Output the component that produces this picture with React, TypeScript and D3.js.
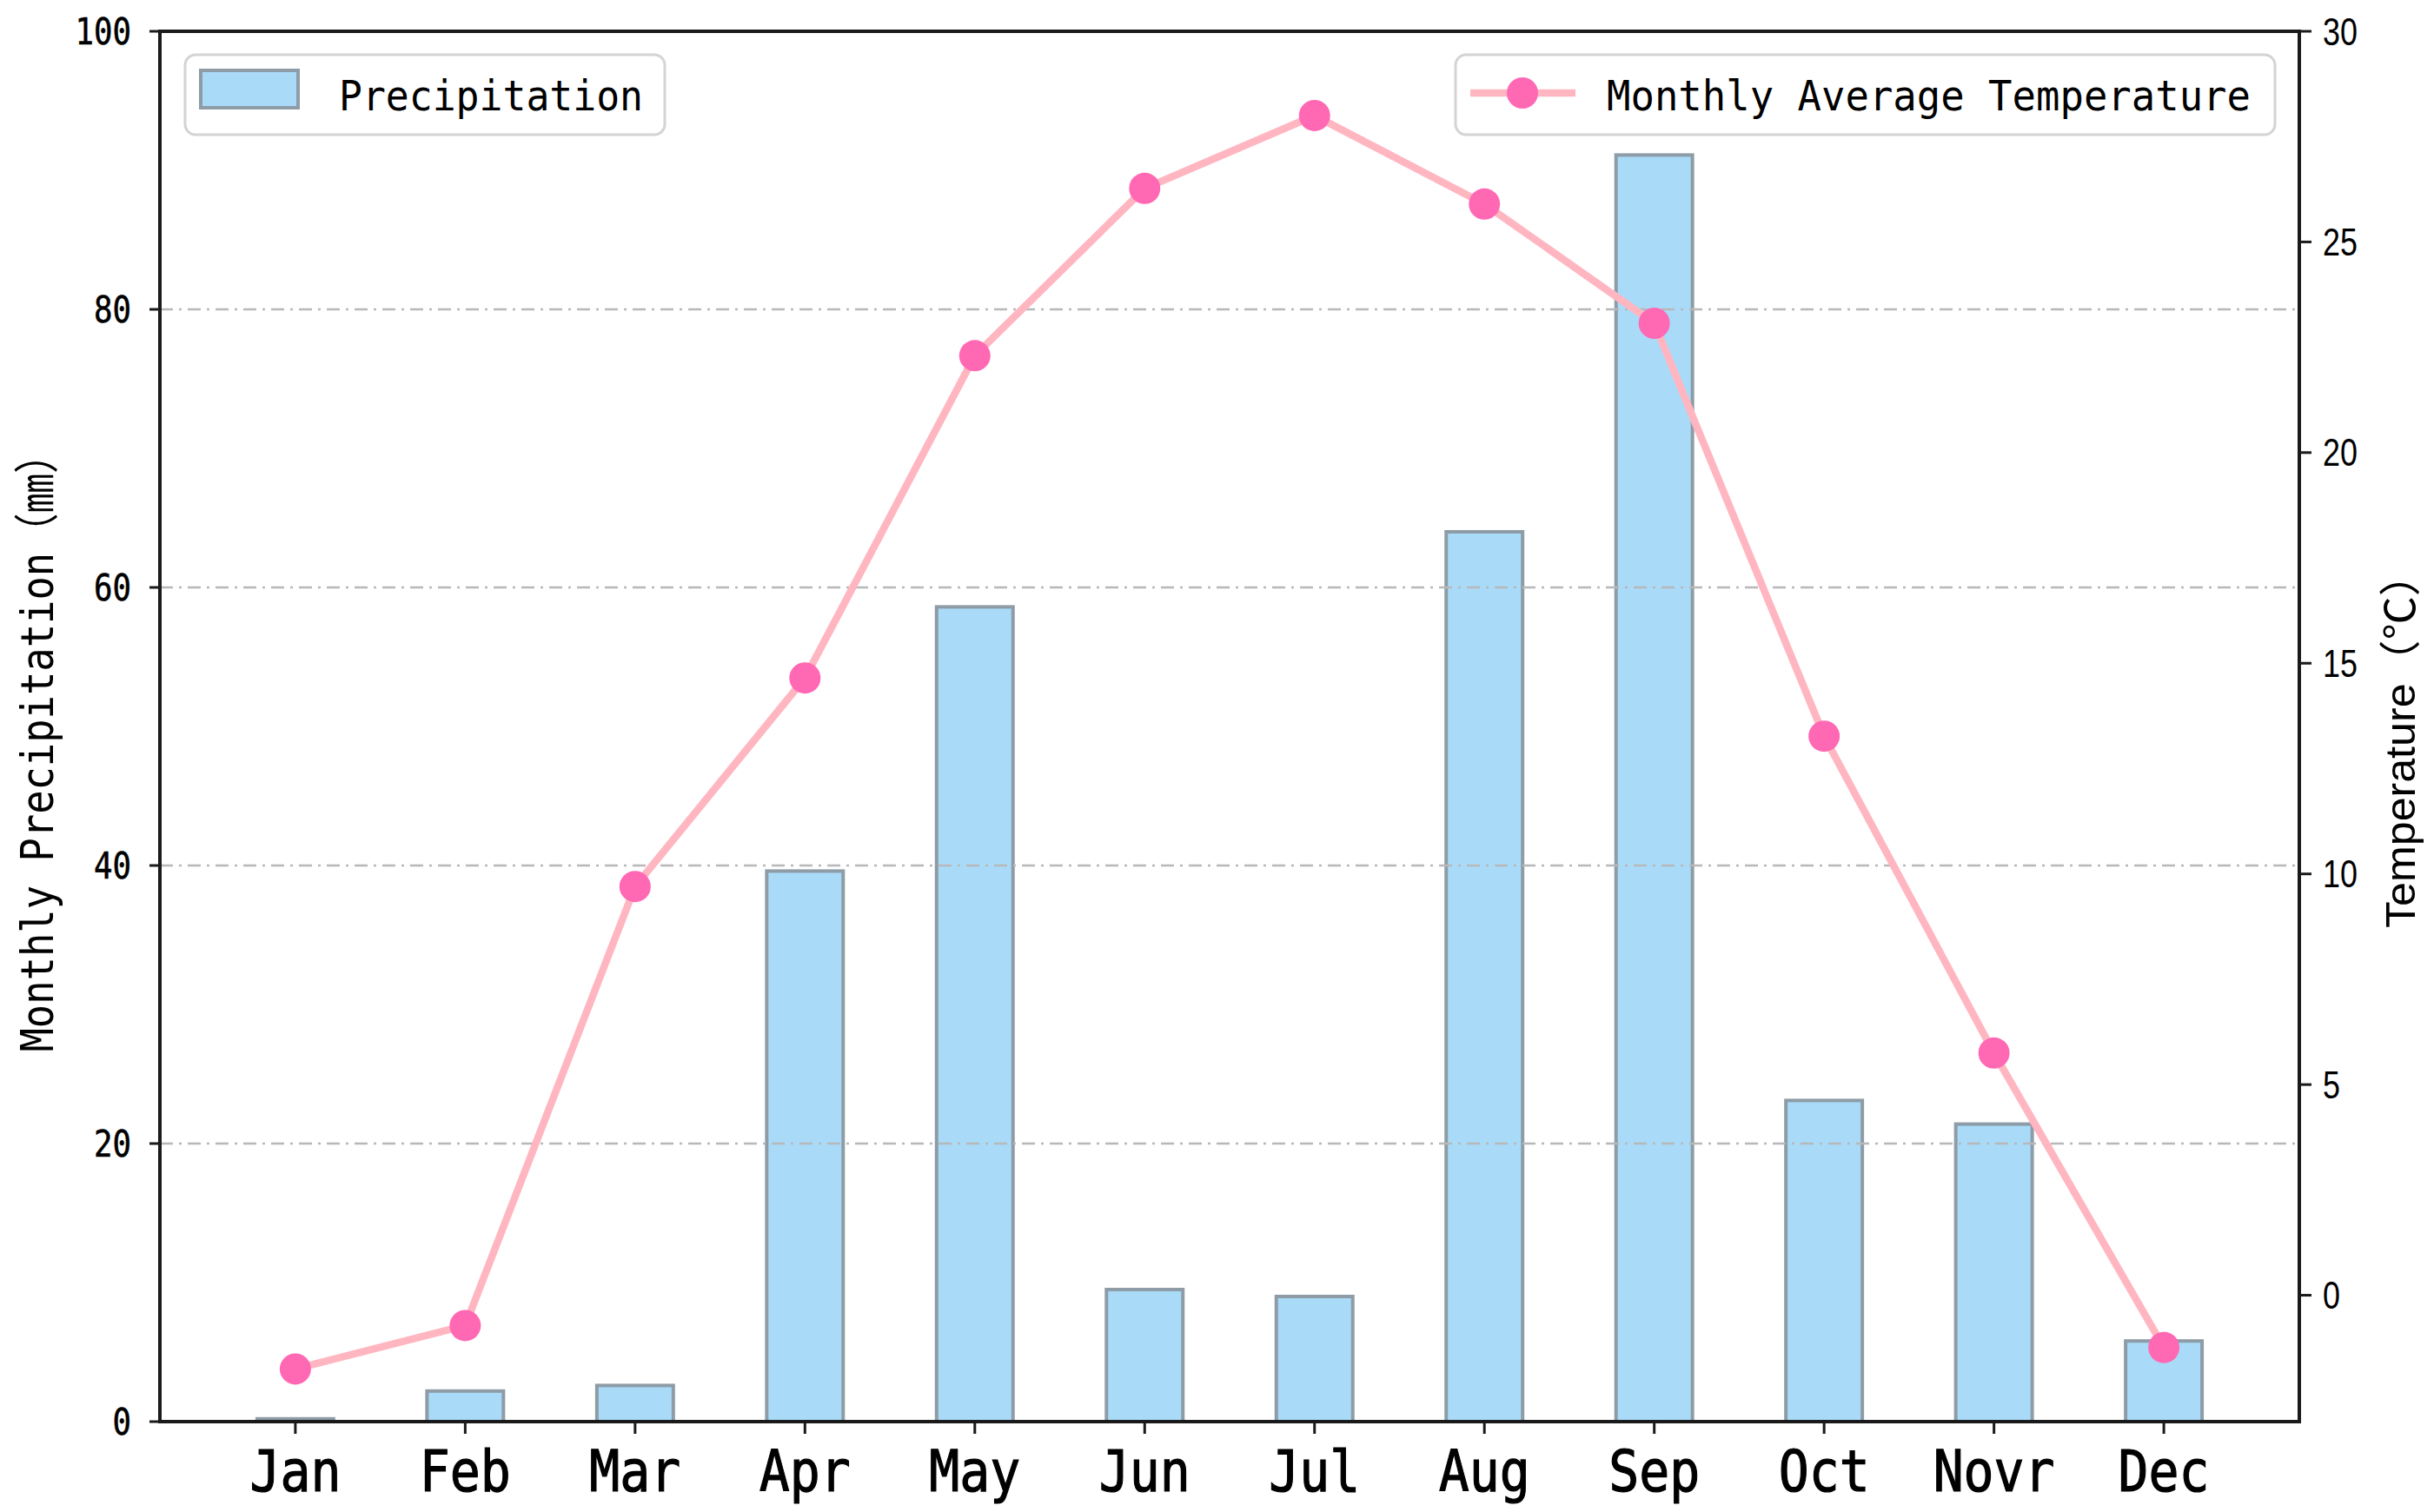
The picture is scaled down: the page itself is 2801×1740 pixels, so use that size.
import React from "react";
import * as d3 from "d3";

const months = ["Jan", "Feb", "Mar", "Apr", "May", "Jun", "Jul", "Aug", "Sep", "Oct", "Novr", "Dec"];
const precipitation = [0.2, 2.2, 2.6, 39.6, 58.6, 9.5, 9.0, 64.0, 91.1, 23.1, 21.4, 5.8];
const temperature = [-1.75, -0.72, 9.7, 14.65, 22.3, 26.27, 28.0, 25.9, 23.07, 13.27, 5.75, -1.24];
const precipTicks = [0, 20, 40, 60, 80, 100];
const gridTicks = [20, 40, 60, 80];
const tempTicks = [0, 5, 10, 15, 20, 25, 30];

const W = 2801;
const H = 1740;
const L = 184, R = 2646, T = 36, B = 1636;
const BAR_W = 0.45;

const MONO = "'DejaVu Sans Mono', 'Noto Sans CJK SC', monospace";
const SANS = "'Liberation Sans', Arial, 'Noto Sans CJK SC', sans-serif";

const BAR_FILL = "#a9dbf9";
const BAR_EDGE = "#8d9ca6";
const LINE_COLOR = "#ffb6c1";
const MARKER_COLOR = "#ff69b4";
const AXIS = "#1a1a1a";

export default function App() {
  const pad = 0.05 * (11 + BAR_W);
  const x = d3.scaleLinear().domain([-(BAR_W / 2) - pad, 11 + BAR_W / 2 + pad]).range([L, R]);
  const yL = d3.scaleLinear().domain([0, 100]).range([B, T]);
  const yR = d3.scaleLinear().domain([-3, 30]).range([B, T]);

  const line = d3
    .line<number>()
    .x((_, i) => x(i))
    .y((d) => yR(d));

  return (
    <svg
      width={W}
      height={H}
      viewBox={`0 0 ${W} ${H}`}
      style={{ position: "absolute", left: 0, top: 0, background: "#fff" }}
    >
      <rect x={0} y={0} width={W} height={H} fill="#fff" />

      {/* bars */}
      {precipitation.map((v, i) => (
        <rect
          key={"b" + i}
          x={x(i - BAR_W / 2)}
          y={yL(v)}
          width={x(i + BAR_W / 2) - x(i - BAR_W / 2)}
          height={yL(0) - yL(v)}
          fill={BAR_FILL}
          stroke={BAR_EDGE}
          strokeWidth={4}
        />
      ))}

      {/* grid */}
      {gridTicks.map((t) => (
        <line
          key={"g" + t}
          x1={L}
          x2={R}
          y1={yL(t)}
          y2={yL(t)}
          stroke="#b8b8b8"
          strokeWidth={2.5}
          strokeDasharray="15,7,3,7"
        />
      ))}

      {/* temperature line */}
      <path d={line(temperature) || ""} fill="none" stroke={LINE_COLOR} strokeWidth={8.5} strokeLinejoin="round" />
      {temperature.map((v, i) => (
        <circle key={"m" + i} cx={x(i)} cy={yR(v)} r={18} fill={MARKER_COLOR} />
      ))}

      {/* spines */}
      <rect x={L} y={T} width={R - L} height={B - T} fill="none" stroke={AXIS} strokeWidth={4} />

      {/* left ticks */}
      {precipTicks.map((t) => (
        <g key={"lt" + t}>
          <line x1={L - 12} x2={L} y1={yL(t)} y2={yL(t)} stroke={AXIS} strokeWidth={3} />
          <text
            x={151}
            y={yL(t)}
            textAnchor="end"
            dominantBaseline="central"
            fontFamily={MONO}
            fontSize={43}
            stroke="#000"
            strokeWidth={0.6}
            textLength={21.5 * String(t).length}
            lengthAdjust="spacingAndGlyphs"
            fill="#000"
          >
            {t}
          </text>
        </g>
      ))}

      {/* right ticks */}
      {tempTicks.map((t) => (
        <g key={"rt" + t}>
          <line x1={R} x2={R + 14} y1={yR(t)} y2={yR(t)} stroke={AXIS} strokeWidth={3} />
          <text
            x={2673}
            y={yR(t)}
            dominantBaseline="central"
            fontFamily={SANS}
            fontSize={45}
            textLength={20 * String(t).length}
            lengthAdjust="spacingAndGlyphs"
            fill="#000"
          >
            {t}
          </text>
        </g>
      ))}

      {/* bottom ticks */}
      {months.map((m, i) => (
        <g key={"xt" + i}>
          <line x1={x(i)} x2={x(i)} y1={B} y2={B + 14} stroke={AXIS} strokeWidth={3} />
          <text
            x={x(i)}
            y={1716}
            textAnchor="middle"
            fontFamily={MONO}
            fontSize={66}
            stroke="#000"
            strokeWidth={1.2}
            textLength={35 * m.length}
            lengthAdjust="spacingAndGlyphs"
            fill="#000"
          >
            {m}
          </text>
        </g>
      ))}

      {/* axis titles */}
      <text
        transform={`translate(43, 855) rotate(-90)`}
        textAnchor="middle"
        dominantBaseline="central"
        fontFamily={MONO}
        fontSize={52}
        textLength={711}
        lengthAdjust="spacingAndGlyphs"
        fill="#000"
      >
        Monthly Precipitation（㎜）
      </text>
      <text
        transform={`translate(2762, 852) rotate(-90)`}
        textAnchor="middle"
        dominantBaseline="central"
        fontFamily={SANS}
        fontSize={48}
        textLength={432}
        lengthAdjust="spacingAndGlyphs"
        fill="#000"
      >
        Temperature（℃）
      </text>

      {/* legend 1 */}
      <rect x={213} y={63} width={552} height={92} rx={12} fill="#fff" fillOpacity={0.9} stroke="#d4d4d4" strokeWidth={3} />
      <rect x={231} y={81} width={112} height={43} fill={BAR_FILL} stroke={BAR_EDGE} strokeWidth={4} />
      <text
        x={390}
        y={110}
        dominantBaseline="central"
        fontFamily={MONO}
        fontSize={48}
        textLength={350}
        lengthAdjust="spacingAndGlyphs"
        fill="#000"
      >
        Precipitation
      </text>

      {/* legend 2 */}
      <rect x={1675} y={63} width={943} height={92} rx={12} fill="#fff" fillOpacity={0.9} stroke="#d4d4d4" strokeWidth={3} />
      <line x1={1692} x2={1813} y1={107} y2={107} stroke={LINE_COLOR} strokeWidth={8.5} />
      <circle cx={1752} cy={107} r={18} fill={MARKER_COLOR} />
      <text
        x={1849}
        y={110}
        dominantBaseline="central"
        fontFamily={MONO}
        fontSize={48}
        textLength={741}
        lengthAdjust="spacingAndGlyphs"
        fill="#000"
      >
        Monthly Average Temperature
      </text>
    </svg>
  );
}
